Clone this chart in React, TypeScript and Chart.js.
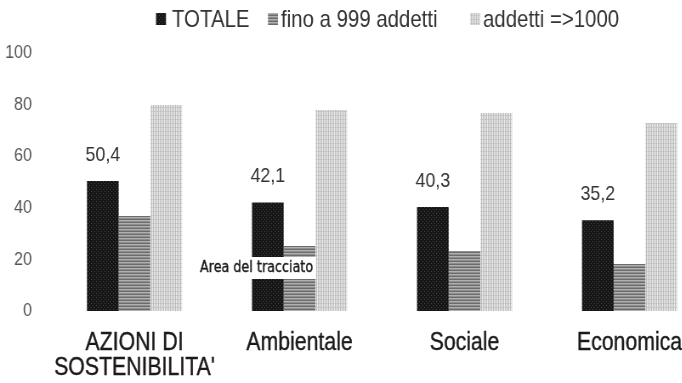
import React, { useEffect, useRef } from 'react';
import { Chart, registerables } from 'chart.js';

Chart.register(...registerables);

// ---- data ----
const categories: (string | string[])[] = [['AZIONI DI', "SOSTENIBILITA'"], 'Ambientale', 'Sociale', 'Economica'];
const seriesNames = ['TOTALE', 'fino a 999 addetti', 'addetti =>1000'];
const totale = [50.4, 42.1, 40.3, 35.2];
const finoA999 = [36.8, 25.2, 23.3, 18.2];
const oltre1000 = [79.8, 77.9, 76.7, 72.9];
const yTicks = [0, 20, 40, 60, 80, 100];
const hoverNote = 'Area del tracciato';

// ---- drawing geometry ----
// the canvas is drawn wide and squeezed horizontally by SX on screen
const SX = 0.85;
const CW = 860;
const CH = 383;
const FONT = '"Liberation Sans", Arial, sans-serif';
const toCanvasX = (x: number) => x / SX;

const PLOT_LEFT = toCanvasX(52);
const PLOT_RIGHT = toCanvasX(712);
const PLOT_TOP = 53;
const PLOT_BOTTOM = 311;

// legend item placement (screen x of swatch and of text)
const LEGEND_BOX_X = [156, 268, 470];
const LEGEND_TEXT_X = [172, 281, 483];

function makePattern(
  ctx: CanvasRenderingContext2D,
  w: number,
  h: number,
  paint: (g: CanvasRenderingContext2D) => void
): CanvasPattern | string {
  const c = document.createElement('canvas');
  c.width = w;
  c.height = h;
  const g = c.getContext('2d')!;
  paint(g);
  return ctx.createPattern(c, 'repeat') || '#888';
}

const fmt = (v: number) => v.toFixed(1).replace('.', ',');

export default function App() {
  const ref = useRef<HTMLCanvasElement>(null);

  useEffect(() => {
    const canvas = ref.current!;
    const ctx = canvas.getContext('2d')!;

    const darkFill = makePattern(ctx, 4, 4, (g) => {
      g.fillStyle = '#161616';
      g.fillRect(0, 0, 4, 4);
      g.fillStyle = '#444';
      g.fillRect(1, 1, 1, 1);
      g.fillRect(3, 3, 1, 1);
    });
    const midFill = makePattern(ctx, 2, 3, (g) => {
      g.fillStyle = '#6c6c6c';
      g.fillRect(0, 0, 2, 1);
      g.fillStyle = '#b0b0b0';
      g.fillRect(0, 1, 2, 1);
      g.fillStyle = '#8e8e8e';
      g.fillRect(0, 2, 2, 1);
    });
    const lightFill = makePattern(ctx, 2, 4, (g) => {
      g.fillStyle = '#bdbdbd';
      g.fillRect(0, 0, 1, 4);
      g.fillStyle = '#ececec';
      g.fillRect(1, 0, 1, 4);
      g.fillStyle = '#d0d0d0';
      g.fillRect(1, 3, 1, 1);
    });
    const fills = [darkFill, midFill, lightFill];

    const legendPlugin = {
      id: 'topLegend',
      afterDraw(chart: Chart) {
        const c = chart.ctx;
        c.save();
        c.font = `24px ${FONT}`;
        c.textBaseline = 'middle';
        c.textAlign = 'left';
        const y = 20;
        seriesNames.forEach((name, i) => {
          c.fillStyle = fills[i] as any;
          c.fillRect(toCanvasX(LEGEND_BOX_X[i]), 13, toCanvasX(10), 12);
          c.fillStyle = '#333';
          c.fillText(name, toCanvasX(LEGEND_TEXT_X[i]), y);
        });
        c.restore();
      },
    };

    const valueLabels = {
      id: 'valueLabels',
      afterDatasetsDraw(chart: Chart) {
        const c = chart.ctx;
        const meta = chart.getDatasetMeta(0);
        c.save();
        c.font = `21px ${FONT}`;
        c.fillStyle = '#333';
        c.textAlign = 'center';
        c.textBaseline = 'middle';
        meta.data.forEach((bar: any, i: number) => {
          c.fillText(fmt(totale[i]), bar.x, bar.y - 26);
        });
        c.restore();
      },
    };

    const noteBox = {
      id: 'noteBox',
      afterDraw(chart: Chart) {
        const c = chart.ctx;
        const x0 = toCanvasX(197);
        const x1 = toCanvasX(316);
        c.save();
        c.fillStyle = '#fff';
        c.fillRect(x0, 257, x1 - x0, 22);
        c.font = `15px "DejaVu Sans", sans-serif`;
        c.fillStyle = '#1a1a1a';
        c.strokeStyle = '#1a1a1a';
        c.lineWidth = 0.4;
        c.textAlign = 'left';
        c.textBaseline = 'middle';
        c.fillText(hoverNote, toCanvasX(200), 268);
        c.strokeText(hoverNote, toCanvasX(200), 268);
        c.restore();
      },
    };

    const chart = new Chart(canvas, {
      type: 'bar',
      data: {
        labels: categories,
        datasets: [
          { label: seriesNames[0], data: totale, backgroundColor: darkFill as any },
          { label: seriesNames[1], data: finoA999, backgroundColor: midFill as any },
          { label: seriesNames[2], data: oltre1000, backgroundColor: lightFill as any },
        ],
      },
      options: {
        responsive: false,
        animation: false,
        devicePixelRatio: 1,
        layout: { padding: { top: PLOT_TOP, right: CW - PLOT_RIGHT, left: 0, bottom: 0 } },
        datasets: { bar: { categoryPercentage: 0.576, barPercentage: 1, borderWidth: 0 } },
        plugins: { legend: { display: false }, tooltip: { enabled: false } },
        scales: {
          x: {
            grid: { display: false, drawTicks: false },
            border: { display: false },
            ticks: {
              color: '#1a1a1a',
              textStrokeColor: '#1a1a1a',
              textStrokeWidth: 0.4,
              font: { family: FONT, size: 25, lineHeight: 1.0 },
              padding: 20,
              maxRotation: 0,
              autoSkip: false,
            },
            afterFit(s: any) {
              s.height = CH - PLOT_BOTTOM;
            },
          },
          y: {
            min: 0,
            max: 100,
            grid: { display: false, drawTicks: false },
            border: { display: false },
            ticks: {
              color: '#555',
              font: { family: FONT, size: 19 },
              padding: PLOT_LEFT - toCanvasX(32),
            },
            afterBuildTicks(s: any) {
              s.ticks = yTicks.map((v) => ({ value: v }));
            },
            afterFit(s: any) {
              s.width = PLOT_LEFT;
            },
          },
        },
      },
      plugins: [valueLabels, noteBox, legendPlugin],
    });

    return () => chart.destroy();
  }, []);

  return (
    <div
      style={{
        position: 'fixed',
        left: 0,
        top: 0,
        width: 682,
        height: 383,
        overflow: 'hidden',
        background: '#fff',
      }}
    >
      <canvas
        ref={ref}
        width={CW}
        height={CH}
        style={{ display: 'block', width: `${CW * SX}px`, height: `${CH}px` }}
      />
    </div>
  );
}
